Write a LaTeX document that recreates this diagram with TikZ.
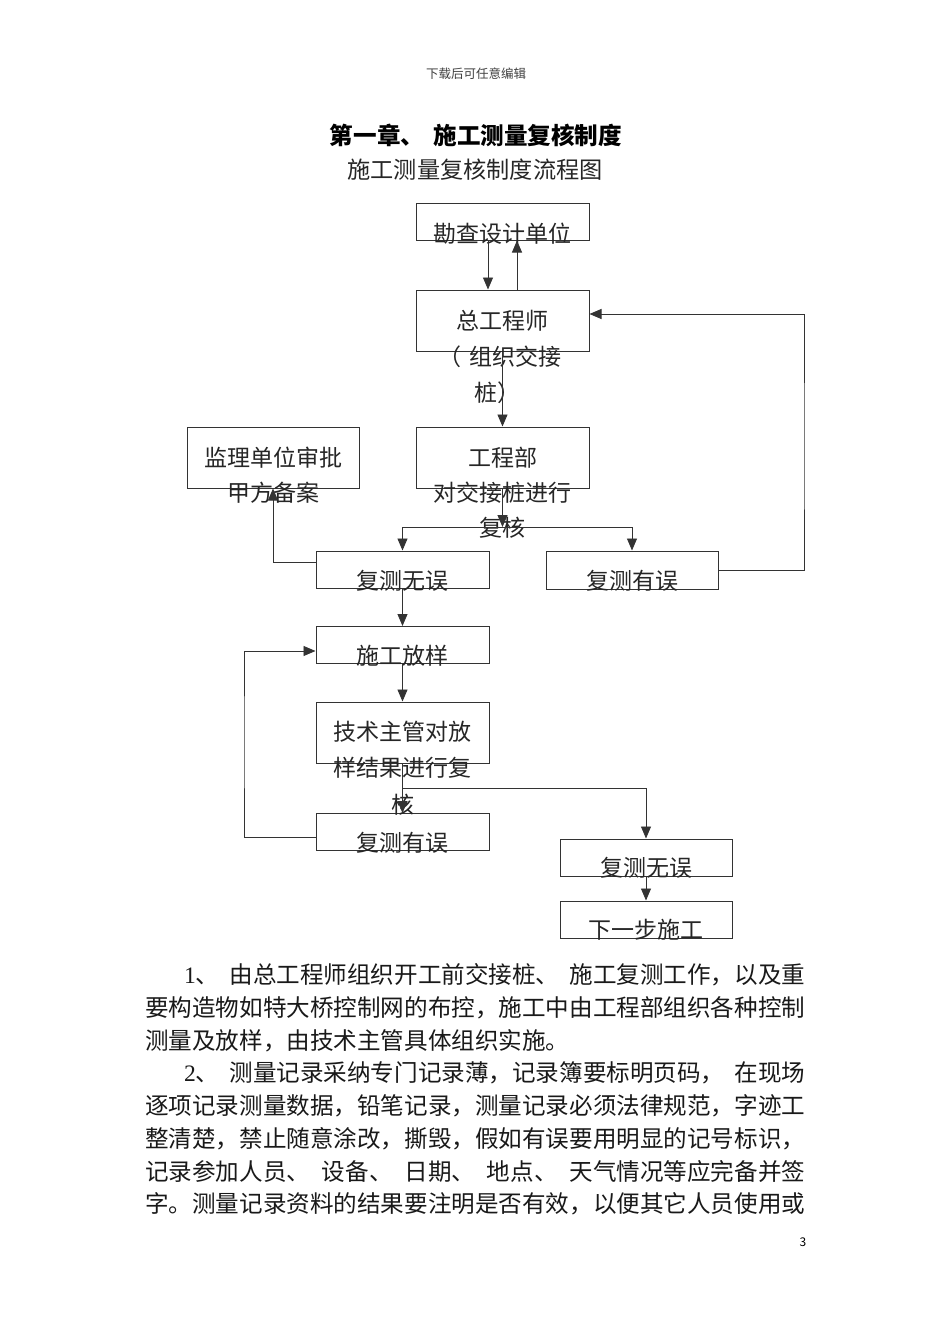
\documentclass[tikz,border=0pt]{standalone}
\usepackage{fontspec}
\setmainfont{Noto Sans CJK SC}
\newfontfamily\serifdig{Liberation Serif}
\usetikzlibrary{arrows.meta}
\begin{document}
\begin{tikzpicture}[x=1pt,y=-1pt,
  box/.style={draw=black!80,line width=1pt,inner sep=0pt,minimum width=173pt,minimum height=37pt},
  tallbox/.style={box,minimum height=61pt},
  txt/.style={inner sep=0pt,font=\fontsize{23}{23}\selectfont,text=black!85},
  para/.style={inner sep=0pt,anchor=west,font=\fontsize{23.57}{23.57}\selectfont,text=black!90},
  arr/.style={draw=black!80,line width=0.9pt,-{Triangle[length=12pt,width=10pt]}}]
\fill[white] (0,0) rectangle (950,1344);
\useasboundingbox (0,0) rectangle (950,1344);
% header and titles
\node[inner sep=0pt,font=\fontsize{12.5}{12.5}\selectfont,text=black!75] (hdr) at (476,74) {下载后可任意编辑};
\node[inner sep=0pt,font=\fontsize{23.57}{23.57}\selectfont\bfseries] (title) at (476,135) {第一章、\hspace{4pt} 施工测量复核制度};
\node[inner sep=0pt,font=\fontsize{23.2}{23.2}\selectfont,text=black!85] (sub) at (475,170) {施工测量复核制度流程图};
% boxes
\node[box] (b1) at (502.5,221.5) {};
\node[tallbox] (b2) at (502.5,320.5) {};
\node[tallbox,minimum width=172pt] (b3) at (273,457.5) {};
\node[tallbox] (b4) at (502.5,457.5) {};
\node[box] (b5) at (402.5,569.5) {};
\node[box,minimum width=172pt,minimum height=38pt] (b6) at (632,570) {};
\node[box] (b7) at (402.5,645) {};
\node[tallbox] (b8) at (402.5,732.5) {};
\node[box] (b9) at (402.5,832) {};
\node[box,minimum width=172pt] (b10) at (646,857.5) {};
\node[box,minimum width=172pt] (b11) at (646,919.5) {};
% box texts
\node[txt] (t1) at (502.5,234) {勘查设计单位};
\node[txt] (t2a) at (502.5,321) {总工程师};
\node[txt] (t2b) at (504,357) {\hspace{-8pt}（\hspace{9pt}组织交接};
\node[txt] (t2c) at (497,393) {桩）};
\node[txt] (t3a) at (273,458) {监理单位审批};
\node[txt] (t3b) at (273,493) {甲方备案};
\node[txt] (t4a) at (502.5,458) {工程部};
\node[txt] (t4b) at (502.5,493) {对交接桩进行};
\node[txt] (t4c) at (502.5,528) {复核};
\node[txt] (t5) at (402.5,581) {复测无误};
\node[txt] (t6) at (632,581) {复测有误};
\node[txt] (t7) at (402.5,656) {施工放样};
\node[txt] (t8a) at (402.5,732) {技术主管对放};
\node[txt] (t8b) at (402.5,768) {样结果进行复};
\node[txt] (t8c) at (402.5,805) {核};
\node[txt] (t9) at (402.5,843) {复测有误};
\node[txt] (t10) at (646,868) {复测无误};
\node[txt] (t11) at (646,930) {下一步施工};
% connector helper coordinates
\coordinate (s1) at (502.5,527);
\coordinate (s2) at (402.5,788);
\coordinate (rc) at (804,450);
\coordinate (lc) at (244,740);
% connectors
\draw[arr] ([xshift=-14.5pt]b1.south) -- ([xshift=-14.5pt]b2.north);
\draw[arr] ([xshift=14.5pt]b2.north) -- ([xshift=14.5pt]b1.south);
\draw[arr] (b2.south) -- (b4.north);
\draw[arr] (b4.south) -- (s1);
\draw[arr] (s1) -| (b5.north);
\draw[arr] (s1) -| (b6.north);
\draw[arr] ([yshift=7pt]b5.west) -| (b3.south);
\draw[arr] (b6.east) -| (rc) |- ([yshift=6.5pt]b2.east);
\draw[arr] (b5.south) -- (b7.north);
\draw[arr] (b7.south) -- (b8.north);
\draw[arr] (b8.south) -- (b9.north);
\draw[arr] (s2) -| (b10.north);
\draw[arr] ([yshift=-5pt]b9.west) -| (lc) |- ([yshift=-6pt]b7.west);
\draw[arr] (b10.south) -- (b11.north);
% body text
\node[para] (p1) at (184,975) {\makebox[621pt][s]{{\serifdig 1}、 由总工程师组织开工前交接桩、 施工复测工作，以及重}};
\node[para] (p2) at (145,1007.7) {要构造物如特大桥控制网的布控，施工中由工程部组织各种控制};
\node[para] (p3) at (145,1040.4) {测量及放样，由技术主管具体组织实施。};
\node[para] (p4) at (184,1073) {\makebox[621pt][s]{{\serifdig 2}、 测量记录采纳专门记录薄，记录簿要标明页码， 在现场}};
\node[para] (p5) at (145,1105.8) {逐项记录测量数据，铅笔记录，测量记录必须法律规范，字迹工};
\node[para] (p6) at (145,1138.5) {整清楚，禁止随意涂改，撕毁，假如有误要用明显的记号标识，};
\node[para] (p7) at (145,1171.2) {\makebox[660pt][s]{记录参加人员、 设备、 日期、 地点、 天气情况等应完备并签}};
\node[para] (p8) at (145,1204) {字。测量记录资料的结果要注明是否有效，以便其它人员使用或};
\node[inner sep=0pt,font=\fontsize{12}{12}\selectfont] (pg) at (803,1242) {3};
\end{tikzpicture}
\end{document}
